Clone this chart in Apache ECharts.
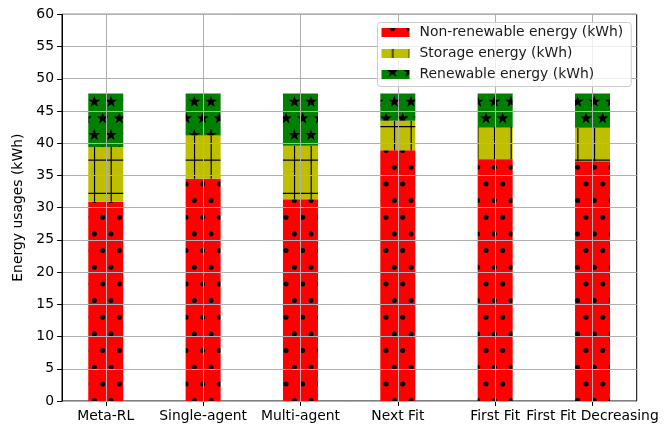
<!DOCTYPE html>
<html>
<head>
<meta charset="utf-8">
<script src="https://cdn.jsdelivr.net/npm/echarts@6/dist/echarts.min.js"></script>
<style>
  html, body { margin: 0; padding: 0; background: #fff; }
  #chart { width: 672px; height: 425px; }
</style>
</head>
<body>
<div id="chart"></div>
<script>
// Energy usage per scheduling method, stacked by source (kWh)
const categories = ['Meta-RL', 'Single-agent', 'Multi-agent', 'Next Fit', 'First Fit', 'First Fit Decreasing'];
const nonRenewable = [30.9, 34.5, 31.3, 38.9, 37.5, 37.2];
const storage      = [8.5, 6.7, 8.3, 4.6, 5.0, 5.2];
const renewable    = [8.3, 6.5, 8.1, 4.2, 5.2, 5.3];
const seriesNames = ['Non-renewable energy (kWh)', 'Storage energy (kWh)', 'Renewable energy (kWh)'];
const yTicks = { min: 0, max: 60, step: 5 };

const FONT = 'DejaVu Sans';
const FS = 13.9;
const P = 50 / 3; // hatch period in px

// Build a repeating hatch tile: solid fill plus black marks
function hatchTile(fill, drawMarks) {
  const c = document.createElement('canvas');
  c.width = 50; c.height = 100;
  const ctx = c.getContext('2d');
  ctx.fillStyle = fill;
  ctx.fillRect(0, 0, c.width, c.height);
  ctx.fillStyle = '#000';
  ctx.strokeStyle = '#000';
  drawMarks(ctx);
  return { image: c, repeat: 'repeat' };
}

// marks on a staggered lattice (every other row shifted by half a period)
function staggered(ctx, yOff, mark) {
  for (let r = -1; r <= 7; r++) {
    const y = r * P + yOff;
    const xOff = (r % 2 === 0) ? 11 : 2.7;
    for (let k = -1; k <= 4; k++) mark(ctx, k * P + xOff, y);
  }
}

function dot(ctx, x, y) {
  ctx.beginPath();
  ctx.arc(x, y, 2.5, 0, Math.PI * 2);
  ctx.fill();
}

function star(ctx, x, y) {
  const R = 6.2, r = 2.5;
  ctx.beginPath();
  for (let i = 0; i < 10; i++) {
    const rad = i % 2 === 0 ? R : r;
    const a = -Math.PI / 2 + i * Math.PI / 5;
    const px = x + rad * Math.cos(a), py = y + rad * Math.sin(a);
    if (i === 0) ctx.moveTo(px, py); else ctx.lineTo(px, py);
  }
  ctx.closePath();
  ctx.fill();
}

const redFill = hatchTile('#ff0000', ctx => staggered(ctx, 0.6, dot));
const yellowFill = hatchTile('#bfbf00', ctx => {
  ctx.lineWidth = 1.2;
  for (let k = -1; k <= 4; k++) {
    const x = k * P + 11.2;
    ctx.beginPath(); ctx.moveTo(x, 0); ctx.lineTo(x, 100); ctx.stroke();
  }
  for (let k = -1; k <= 4; k++) {
    const y = k * 2 * P + 26.7;
    ctx.beginPath(); ctx.moveTo(0, y); ctx.lineTo(50, y); ctx.stroke();
  }
});
const greenFill = hatchTile('#008000', ctx => staggered(ctx, 1.7, star));

const chart = echarts.init(document.getElementById('chart'), null, { renderer: 'canvas' });

function barSeries(name, data, fill) {
  return {
    name: name,
    type: 'bar',
    stack: 'energy',
    xAxisIndex: 0,
    yAxisIndex: 0,
    data: data,
    barWidth: 35,
    itemStyle: { color: fill },
    z: 2
  };
}

chart.setOption({
  animation: false,
  backgroundColor: '#fff',
  textStyle: { fontFamily: FONT },
  grid: [
    // category bands for the bars (slightly wider than the frame)
    { left: 57.1, right: 30.8, top: 14.3, bottom: 24 },
    // axes frame
    { left: 62, right: 35.3, top: 14.3, bottom: 24,
      show: true, borderColor: '#000', borderWidth: 1, backgroundColor: 'transparent' }
  ],
  legend: {
    data: seriesNames,
    orient: 'vertical',
    left: 377.5, top: 22.5,
    padding: [3, 8, 5, 4],
    itemWidth: 28, itemHeight: 9, itemGap: 7,
    icon: 'rect',
    backgroundColor: 'rgba(255,255,255,0.8)',
    borderColor: '#cccccc', borderWidth: 1, borderRadius: 3,
    textStyle: { fontFamily: FONT, fontSize: FS, color: '#1a1a1a', padding: [0, 0, 0, 5] },
    z: 10
  },
  xAxis: [
    {
      type: 'category',
      gridIndex: 0,
      data: categories,
      axisLine: { show: false },
      axisTick: { show: true, alignWithLabel: true, length: 5, lineStyle: { color: '#000' } },
      axisLabel: { interval: 0, hideOverlap: false, color: '#000', fontFamily: FONT, fontSize: FS, margin: 8 },
      splitLine: { show: false }
    },
    {
      type: 'value', gridIndex: 1, min: 0, max: 1, show: false
    }
  ],
  yAxis: [
    {
      type: 'value', gridIndex: 0,
      min: yTicks.min, max: yTicks.max, interval: yTicks.step,
      show: false
    },
    {
      type: 'value', gridIndex: 1,
      min: yTicks.min, max: yTicks.max, interval: yTicks.step,
      name: 'Energy usages (kWh)',
      nameLocation: 'middle',
      nameGap: 32,
      nameTextStyle: { fontFamily: FONT, fontSize: FS, color: '#000' },
      axisLine: { show: true, lineStyle: { color: '#000', width: 1 } },
      axisTick: { show: true, length: 5, lineStyle: { color: '#000' } },
      axisLabel: { color: '#000', fontFamily: FONT, fontSize: FS, margin: 8 },
      splitLine: { show: true, lineStyle: { color: '#b0b0b0', width: 1 } },
      z: 5
    }
  ],
  series: [
    barSeries(seriesNames[0], nonRenewable, redFill),
    barSeries(seriesNames[1], storage, yellowFill),
    barSeries(seriesNames[2], renewable, greenFill),
    {
      // vertical grid lines at each category
      name: 'xgrid',
      type: 'line',
      xAxisIndex: 0,
      yAxisIndex: 0,
      data: [],
      z: 5,
      silent: true,
      markLine: {
        silent: true,
        symbol: ['none', 'none'],
        label: { show: false },
        lineStyle: { color: '#b0b0b0', width: 1, type: 'solid' },
        data: categories.map(c => ({ xAxis: c }))
      }
    }
  ]
});
</script>
</body>
</html>
